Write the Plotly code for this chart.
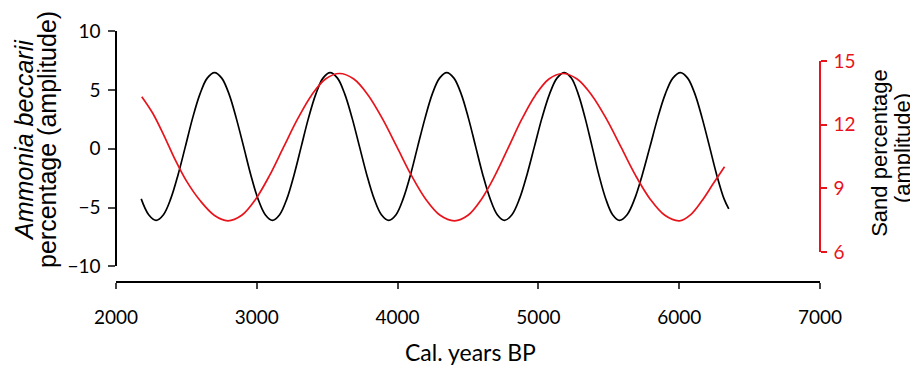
import plotly.graph_objects as go

# Ammonia beccarii percentage (amplitude)
ammonia_years = [2179, 2232,
                 2285, 2337, 2389, 2441, 2493, 2544, 2596, 2648,
                 2700, 2751, 2803, 2854, 2906, 2957, 3008, 3060,
                 3111, 3162, 3214, 3265, 3316, 3367, 3419, 3470,
                 3521, 3573, 3625, 3677, 3729, 3781, 3833, 3885,
                 3937, 3989, 4040, 4092, 4143, 4195, 4246, 4298,
                 4349, 4400, 4452, 4503, 4554, 4605, 4657, 4708,
                 4759, 4812, 4866, 4919, 4972, 5025, 5079, 5132,
                 5185, 5234, 5283, 5332, 5381, 5429, 5478, 5527,
                 5576, 5630, 5684, 5738, 5793, 5847, 5901, 5955,
                 6009, 6060, 6112, 6163, 6215, 6266, 6318, 6352]
ammonia_vals = [-4.26, -5.60,
                -6.08, -5.60, -4.24, -2.20, 0.2, 2.60, 4.64, 6.00,
                6.47, 6.00, 4.64, 2.60, 0.2, -2.20, -4.24, -5.60,
                -6.08, -5.60, -4.24, -2.20, 0.2, 2.60, 4.64, 6.00,
                6.47, 6.00, 4.64, 2.60, 0.2, -2.20, -4.24, -5.60,
                -6.08, -5.60, -4.24, -2.20, 0.2, 2.60, 4.64, 6.00,
                6.47, 6.00, 4.64, 2.60, 0.2, -2.20, -4.24, -5.60,
                -6.08, -5.60, -4.24, -2.20, 0.2, 2.60, 4.64, 6.00,
                6.47, 6.00, 4.64, 2.60, 0.2, -2.20, -4.24, -5.60,
                -6.08, -5.60, -4.24, -2.20, 0.2, 2.60, 4.64, 6.00,
                6.47, 6.00, 4.64, 2.60, 0.2, -2.20, -4.24, -5.11]

# Sand percentage (amplitude)
sand_years = [2183, 2260, 2340, 2420, 2500, 2600, 2700,
              2794, 2893, 2992, 3091, 3190, 3290, 3389, 3488,
              3587, 3689, 3791, 3893, 3996, 4098, 4200, 4302,
              4404, 4500, 4596, 4692, 4788, 4883, 4979, 5075,
              5171, 5275, 5379, 5483, 5587, 5690, 5794, 5898,
              6002, 6080, 6160, 6240, 6322]
sand_vals = [13.32, 12.55, 11.5, 10.35, 9.35, 8.4, 7.72,
             7.47, 7.73, 8.49, 9.61, 10.94, 12.27, 13.39, 14.15,
             14.41, 14.15, 13.39, 12.27, 10.94, 9.61, 8.49, 7.73,
             7.47, 7.73, 8.49, 9.61, 10.94, 12.27, 13.39, 14.15,
             14.41, 14.15, 13.39, 12.27, 10.94, 9.61, 8.49, 7.73,
             7.47, 7.75, 8.4, 9.2, 10.02]

x_ticks = [2000, 3000, 4000, 5000, 6000, 7000]
y_ticks = [-10, -5, 0, 5, 10]
y2_ticks = [6, 9, 12, 15]

TICK_FONT = "Lato"
TITLE_FONT = "Liberation Sans"
RED = "#e8141c"

fig = go.Figure()
fig.add_trace(go.Scatter(x=ammonia_years, y=ammonia_vals, mode="lines",
                         line=dict(color="black", width=1.7, shape="spline"),
                         xaxis="x", yaxis="y", showlegend=False))
fig.add_trace(go.Scatter(x=sand_years, y=sand_vals, mode="lines",
                         line=dict(color=RED, width=1.7, shape="spline"),
                         xaxis="x", yaxis="y2", showlegend=False))

fig.update_layout(
    width=918, height=367,
    margin=dict(l=108, r=106, t=23, b=93),
    paper_bgcolor="white", plot_bgcolor="rgba(0,0,0,0)",
    font=dict(family=TICK_FONT, size=19, color="black"),
    xaxis=dict(range=[2000, 7000], tickvals=x_ticks, ticks="outside", ticklen=6,
               tickwidth=1.5, showline=True, linecolor="black", linewidth=1.5,
               showgrid=False, zeroline=False, anchor="free", position=0,
               automargin=False, tickfont=dict(size=19), ticklabelstandoff=12),
    yaxis=dict(range=[-10, 10], tickvals=y_ticks, ticks="outside", ticklen=7,
               tickwidth=1.5, showline=True, linecolor="black", linewidth=1.5,
               showgrid=False, zeroline=False, domain=[0.0618, 1],
               automargin=False, tickfont=dict(size=19), anchor="free", position=0,
               ticklabelstandoff=4),
    yaxis2=dict(range=[6, 15], tickvals=y2_ticks, ticks="outside", ticklen=6,
                tickwidth=1.5, showline=True, linecolor=RED, linewidth=1.5,
                tickcolor=RED, showgrid=False, zeroline=False, side="right",
                domain=[0.1195, 0.8805], anchor="free", position=1,
                automargin=False, tickfont=dict(size=19, color=RED),
                ticklabelstandoff=3),
    annotations=[
        dict(text="<i>Ammonia beccarii</i>",
             textangle=-90, xref="paper", yref="paper",
             x=-0.1307, y=0.566, xanchor="center", yanchor="middle",
             showarrow=False, font=dict(size=25, family=TITLE_FONT, color="black")),
        dict(text="percentage (amplitude)",
             textangle=-90, xref="paper", yref="paper",
             x=-0.098, y=0.566, xanchor="center", yanchor="middle",
             showarrow=False, font=dict(size=25, family=TITLE_FONT, color="black")),
        dict(text="Sand percentage",
             textangle=-90, xref="paper", yref="paper",
             x=1.085, y=0.514, xanchor="center", yanchor="middle",
             showarrow=False, font=dict(size=22, family=TITLE_FONT, color="black")),
        dict(text="(amplitude)",
             textangle=-90, xref="paper", yref="paper",
             x=1.117, y=0.535, xanchor="center", yanchor="middle",
             showarrow=False, font=dict(size=22, family=TITLE_FONT, color="black")),
        dict(text="Cal. years BP", xref="paper", yref="paper",
             x=0.504, y=-0.279, xanchor="center", yanchor="middle",
             showarrow=False, font=dict(size=23, family=TICK_FONT, color="black")),
    ],
)

fig.write_html("out.html")
